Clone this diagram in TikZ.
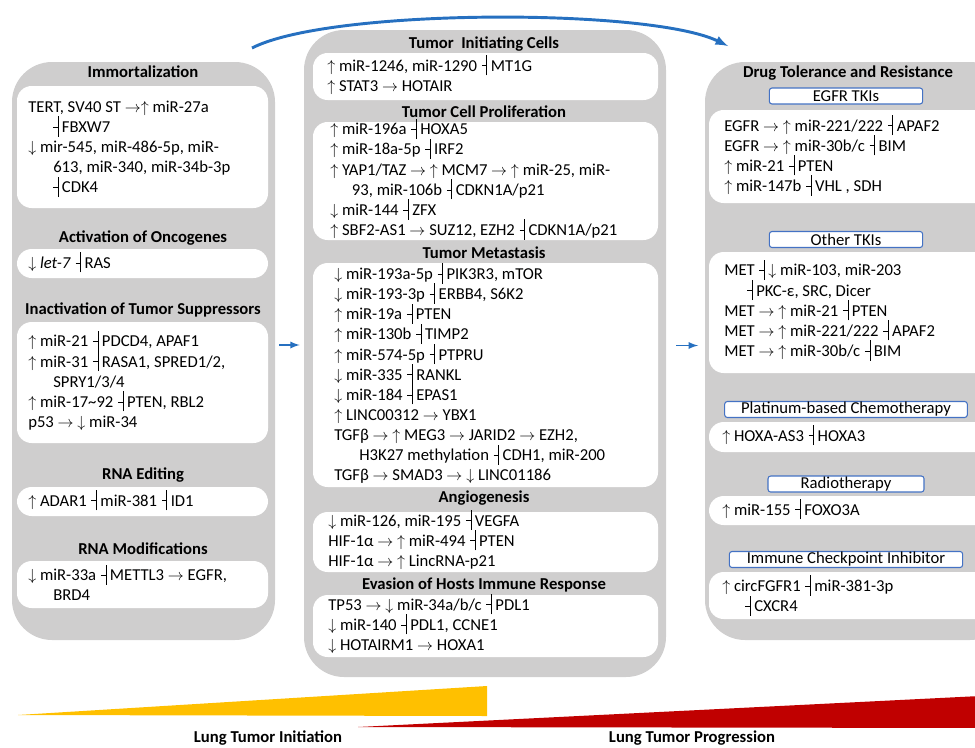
\documentclass[tikz,border=0pt]{standalone}
\usepackage{fontspec}
\setmainfont{Carlito}
\usetikzlibrary{fit}
\definecolor{panelgray}{RGB}{207,206,206}
\definecolor{linkblue}{RGB}{38,112,192}
\definecolor{tagblue}{RGB}{68,114,196}
\definecolor{inityellow}{RGB}{255,192,0}
\definecolor{progred}{RGB}{192,0,0}
\newcommand{\basefont}{\fontsize{12.5}{15.1}\selectfont}
\newcommand{\inh}{\hspace{0.28em}\smash{\rule[0.3em]{0.28em}{0.55pt}\rule[-0.25em]{0.75pt}{1.22em}}\hspace{0.2em}}
\newcommand{\incr}{$\uparrow$}
\newcommand{\decr}{$\downarrow$}
\newcommand{\act}{$\rightarrow$}

\begin{document}
\begin{tikzpicture}[x=0.75pt, y=-0.75pt, every node/.style={font=\basefont},
    panel/.style={fill=panelgray, rounded corners=30pt, inner sep=0pt},
    wbox/.style={fill=white, rounded corners=11pt, inner sep=0pt},
    tag/.style={draw=tagblue, fill=white, rounded corners=2pt, line width=0.8pt, inner sep=0pt, minimum height=12pt},
    ttl/.style={font=\basefont\bfseries, inner sep=1pt},
    txt/.style={align=left, anchor=west, inner sep=0pt},
    link/.style={-latex, draw=linkblue, line width=1.4pt}]
    \useasboundingbox (0,0) rectangle (975,747);
    \clip (0,0) rectangle (975,747);
    % the three panels
    \node[panel, fit={(12,62) (275,640)}] (left) {};
    \node[panel, fit={(304,30) (666,677)}] (mid) {};
    \node[panel, fit={(705,62) (1010,640)}] (right) {};

    % left panel
    \node[ttl] (immT) at (143,72) {Immortalization};
    \node[wbox, fit={(17,86) (268,208)}] (immB) {};
    \node[txt] (immX) at (28,147) {TERT, SV40 ST \act\incr{} miR-27a\\
        \hspace*{1.2em}\inh FBXW7\\
        \decr{} mir-545, miR-486-5p, miR-\\
        \hspace*{1.5em}613, miR-340, miR-34b-3p\\
        \hspace*{1.2em}\inh CDK4};
    \node[ttl] (oncT) at (143,238) {Activation of Oncogenes};
    \node[wbox, fit={(17,249) (268,278)}] (oncB) {};
    \node[txt] (oncX) at (28,264) {\decr{} \textit{let-7}\inh RAS};
    \node[ttl] (supT) at (143,310) {Inactivation of Tumor Suppressors};
    \node[wbox, fit={(17,322) (268,443)}] (supB) {};
    \node[txt] (supX) at (28,383) {\incr{} miR-21\inh PDCD4, APAF1\\
        \incr{} miR-31\inh RASA1, SPRED1/2,\\
        \hspace*{1.5em}SPRY1/3/4\\
        \incr{} miR-17\textasciitilde92\inh PTEN, RBL2\\
        p53 \act{} \decr{} miR-34};
    \node[ttl] (ediT) at (143,475) {RNA Editing};
    \node[wbox, fit={(17,487) (268,516)}] (ediB) {};
    \node[txt] (ediX) at (28,502) {\incr{} ADAR1\inh miR-381\inh ID1};
    \node[ttl] (modT) at (143,549) {RNA Modifications};
    \node[wbox, fit={(17,561) (268,608)}] (modB) {};
    \node[txt] (modX) at (28,585) {\decr{} miR-33a\inh METTL3 \act{} EGFR,\\
        \hspace*{1.5em}BRD4};

    % middle panel
    \node[ttl] (ticT) at (484,44) {Tumor\ \ Initiating Cells};
    \node[wbox, fit={(313,53) (658,100)}] (ticB) {};
    \node[txt] (ticX) at (327,77) {\incr{} miR-1246, miR-1290\inh MT1G\\
        \incr{} STAT3 \act{} HOTAIR};
    \node[ttl] (proT) at (484,112) {Tumor Cell Proliferation};
    \node[wbox, fit={(313,122) (658,240)}] (proB) {};
    \node[txt] (proX) at (330,181) {\incr{} miR-196a\inh HOXA5\\
        \incr{} miR-18a-5p\inh IRF2\\
        \incr{} YAP1/TAZ \act{} \incr{} MCM7 \act{} \incr{} miR-25, miR-\\
        \hspace*{1.3em}93, miR-106b\inh CDKN1A/p21\\
        \decr{} miR-144\inh ZFX\\
        \incr{} SBF2-AS1 \act{} SUZ12, EZH2\inh CDKN1A/p21};
    \node[ttl] (metT) at (484,253) {Tumor Metastasis};
    \node[wbox, fit={(313,263) (658,487)}] (metB) {};
    \node[txt] (metX) at (334,376) {\decr{} miR-193a-5p\inh PIK3R3, mTOR\\
        \decr{} miR-193-3p\inh ERBB4, S6K2\\
        \incr{} miR-19a\inh PTEN\\
        \incr{} miR-130b\inh TIMP2\\
        \incr{} miR-574-5p\inh PTPRU\\
        \decr{} miR-335\inh RANKL\\
        \decr{} miR-184\inh EPAS1\\
        \incr{} LINC00312 \act{} YBX1\\
        TGFβ \act{} \incr{} MEG3 \act{} JARID2 \act{} EZH2,\\
        \hspace*{1.5em}H3K27 methylation\inh CDH1, miR-200\\
        TGFβ \act{} SMAD3 \act{} \decr{} LINC01186};
    \node[ttl] (angT) at (484,498) {Angiogenesis};
    \node[wbox, fit={(313,512) (658,572)}] (angB) {};
    \node[txt] (angX) at (328,542) {\decr{} miR-126, miR-195\inh VEGFA\\
        HIF-1α \act{} \incr{} miR-494\inh PTEN\\
        HIF-1α \act{} \incr{} LincRNA-p21};
    \node[ttl] (evaT) at (484,585) {Evasion of Hosts Immune Response};
    \node[wbox, fit={(313,595) (658,657)}] (evaB) {};
    \node[txt] (evaX) at (328,626) {TP53 \act{} \decr{} miR-34a/b/c\inh PDL1\\
        \decr{} miR-140\inh PDL1, CCNE1\\
        \decr{} HOTAIRM1 \act{} HOXA1};

    % right panel
    \node[ttl] (drugT) at (848,73) {Drug Tolerance and Resistance};
    \node[tag, minimum width=115pt] (egfrT) at (846,96) {EGFR TKIs};
    \node[wbox, fit={(709,110) (990,203)}] (egfrB) {};
    \node[txt] (egfrX) at (724,157) {EGFR \act{} \incr{} miR-221/222\inh APAF2\\
        EGFR \act{} \incr{} miR-30b/c\inh BIM\\
        \incr{} miR-21\inh PTEN\\
        \incr{} miR-147b\inh VHL , SDH};
    \node[tag, minimum width=115pt] (othT) at (846,239.5) {Other TKIs};
    \node[wbox, fit={(709,252) (990,373)}] (othB) {};
    \node[txt] (othX) at (724,312) {MET\inh\decr{} miR-103, miR-203\\
        \hspace*{1.1em}\inh PKC-ε, SRC, Dicer\\
        MET \act{} \incr{} miR-21\inh PTEN\\
        MET \act{} \incr{} miR-221/222\inh APAF2\\
        MET \act{} \incr{} miR-30b/c\inh BIM};
    \node[tag, minimum width=182pt] (platT) at (846,409.5) {Platinum-based Chemotherapy};
    \node[wbox, fit={(709,422) (990,452)}] (platB) {};
    \node[txt] (platX) at (722,437) {\incr{} HOXA-AS3\inh HOXA3};
    \node[tag, minimum width=117pt] (radT) at (846,484) {Radiotherapy};
    \node[wbox, fit={(709,496) (990,525)}] (radB) {};
    \node[txt] (radX) at (722,511) {\incr{} miR-155\inh FOXO3A};
    \node[tag, minimum width=175pt] (iciT) at (846,559.5) {Immune Checkpoint Inhibitor};
    \node[wbox, fit={(709,572) (990,619)}] (iciB) {};
    \node[txt] (iciX) at (722,596) {\incr{} circFGFR1\inh miR-381-3p\\
        \hspace*{1.1em}\inh CXCR4};

    % connectors between panels
    \draw[link, shorten <=3pt, shorten >=3pt] ([yshift=4.5pt]left.east) -- ([yshift=4.5pt]left.east -| mid.west);
    \draw[link, shorten <=7.5pt, shorten >=5pt] ([yshift=6pt]mid.east) -- ([yshift=6pt]mid.east -| right.west);
    \coordinate (arcS) at (252,48);
    \coordinate (arcE) at (728,46);
    \draw[link, line width=2.2pt] (arcS) .. controls (330,8) and (650,8) .. (arcE);

    % initiation / progression wedges
    \fill[inityellow] (18,715) -- (487,686) -- (487,716) -- cycle;
    \fill[progred] (358,727) -- (1000,695) -- (1000,728) -- cycle;
    \node[ttl] (initL) at (268,738) {Lung Tumor Initiation};
    \node[ttl] (progL) at (692,738) {Lung Tumor Progression};
\end{tikzpicture}
\end{document}
